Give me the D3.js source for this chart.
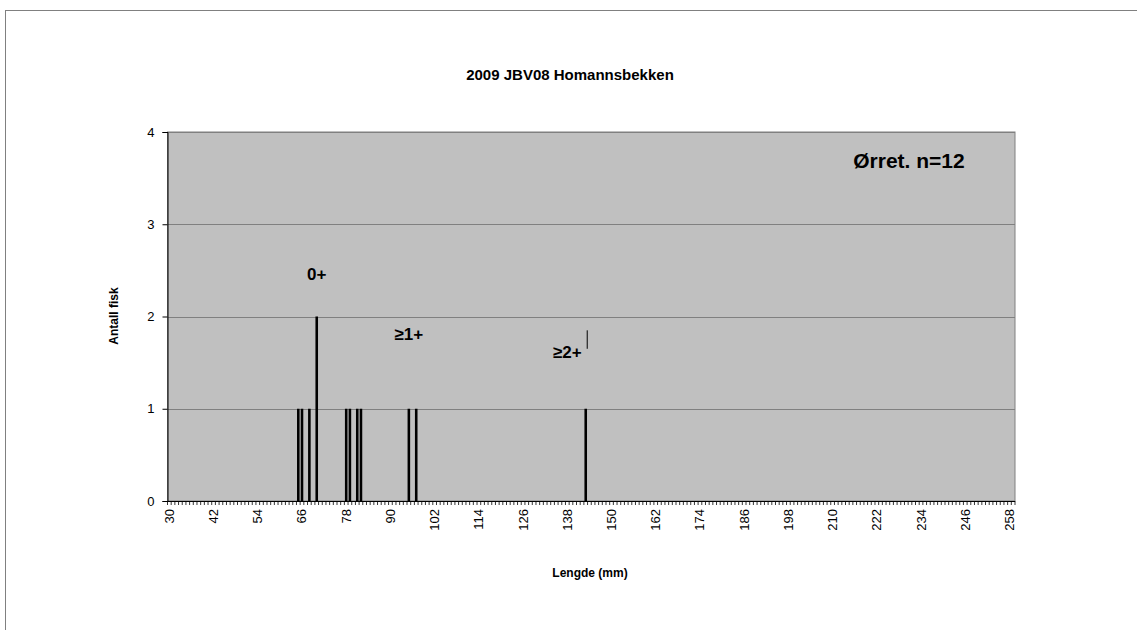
<!DOCTYPE html>
<html><head><meta charset="utf-8">
<script src="https://cdn.jsdelivr.net/npm/d3@7"></script>
<style>body{margin:0;background:#fff}svg{display:block}text{font-family:Arial,"Liberation Sans",sans-serif}</style>
</head><body><svg id="c" width="1137" height="630"></svg>
<script>
const categories = d3.range(30, 260).map(String); // lengths in mm
const lengths = [65, 66, 68, 70, 78, 79, 81, 82, 95, 97, 143];
const counts  = [1, 1, 1, 2, 1, 1, 1, 1, 1, 1, 1];
const tickLabels = ["30","42","54","66","78","90","102","114","126","138","150","162","174","186","198","210","222","234","246","258"];
const yTicks = [0, 1, 2, 3, 4];
const notes = [{t:"0+", len:70, v:2.4}, {t:"≥1+", len:95, v:1.75}, {t:"≥2+", len:138, v:1.55}];

const svg = d3.select("#c");
const L = 167.5, R = 1015, T = 132, B = 501;
svg.append("rect").attr("x",5.5).attr("y",10.5).attr("width",1200).attr("height",700).attr("fill","#fff").attr("stroke","#808080");

const x = d3.scaleBand().domain(categories).range([L, R]).paddingInner(0.3).paddingOuter(0.15);
const y = d3.scaleLinear().domain([0, 4]).range([B, T]);

svg.append("rect").attr("x",L).attr("y",T).attr("width",R-L).attr("height",B-T).attr("fill","#c0c0c0").attr("stroke","#808080");
svg.selectAll(".grid").data(yTicks.slice(1)).join("line")
  .attr("x1",L).attr("x2",R).attr("y1",d=>Math.round(y(d))+0.5).attr("y2",d=>Math.round(y(d))+0.5)
  .attr("stroke","#808080").attr("stroke-width",1);

const data = lengths.map((l,i)=>({c:String(l), v:counts[i]}));
svg.selectAll(".bar").data(data).join("rect")
  .attr("x",d=>x(d.c)).attr("width",x.bandwidth())
  .attr("y",d=>y(d.v)).attr("height",d=>B-y(d.v)).attr("fill","#000");

// y axis
const ya = svg.append("g").attr("transform",`translate(${L},0)`)
  .call(d3.axisLeft(y).tickValues(yTicks).tickFormat(d3.format("d")).tickSize(5).tickPadding(8));
ya.select(".domain").attr("stroke","#000");
ya.selectAll("line").attr("stroke","#000");
ya.selectAll("text").attr("font-size",13).attr("fill","#000").attr("font-family","Arial,'Liberation Sans',sans-serif");

// x axis: tick marks between categories
const step = x.step(), off = step*x.paddingInner()/2;
const bounds = categories.map(c=>x(c)-off).concat([x(categories[categories.length-1])+x.bandwidth()+off]);
svg.append("line").attr("x1",L).attr("x2",R).attr("y1",B+0.5).attr("y2",B+0.5).attr("stroke","#000");
svg.selectAll(".xt").data(bounds).join("line")
  .attr("x1",d=>d).attr("x2",d=>d).attr("y1",B).attr("y2",B+4).attr("stroke","#000").attr("stroke-width",0.8);
svg.selectAll(".xl").data(tickLabels).join("text")
  .attr("transform",d=>`translate(${x(d)+x.bandwidth()/2+4.5},${B+8}) rotate(-90)`)
  .attr("text-anchor","end").attr("font-size",13).attr("fill","#000").text(d=>d);

// titles
svg.append("text").attr("x",570).attr("y",80).attr("text-anchor","middle").attr("font-size",15).attr("font-weight","bold").text("2009 JBV08 Homannsbekken");
svg.append("text").attr("x",590).attr("y",577).attr("text-anchor","middle").attr("font-size",12).attr("font-weight","bold").text("Lengde (mm)");
svg.append("text").attr("transform","translate(118,316) rotate(-90)").attr("text-anchor","middle").attr("font-size",12).attr("font-weight","bold").text("Antall fisk");
svg.append("text").attr("x",909).attr("y",168).attr("text-anchor","middle").attr("font-size",21).attr("font-weight","bold").text("Ørret. n=12");

// annotations
svg.selectAll(".note").data(notes).join("text")
  .attr("x",d=>x(String(d.len))+x.bandwidth()/2).attr("y",d=>y(d.v))
  .attr("text-anchor","middle").attr("font-size",17).attr("font-weight","bold").text(d=>d.t);
svg.append("line").attr("x1",x("143")+x.bandwidth()/2+1.5).attr("x2",x("143")+x.bandwidth()/2+1.5)
  .attr("y1",y(1.85)).attr("y2",y(1.65)).attr("stroke","#000").attr("stroke-width",1);
</script></body></html>
